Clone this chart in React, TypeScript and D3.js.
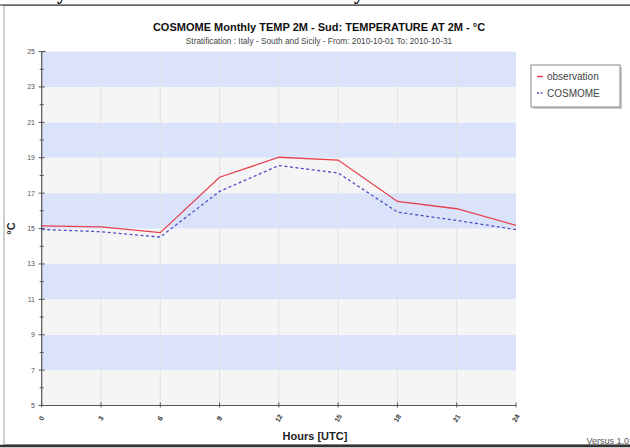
import React from "react";
import * as d3 from "d3";

const hours = [0, 3, 6, 9, 12, 15, 18, 21, 24];
const observation = [15.15, 15.1, 14.77, 17.9, 19.03, 18.87, 16.53, 16.12, 15.18];
const cosmome = [14.95, 14.82, 14.52, 17.1, 18.56, 18.14, 15.93, 15.46, 14.94];
const yTicks = [5, 7, 9, 11, 13, 15, 17, 19, 21, 23, 25];
const yMinor = d3.range(5, 26, 1);
const seriesNames = ["observation", "COSMOME"];
const title = "COSMOME Monthly TEMP 2M - Sud: TEMPERATURE AT 2M  - °C";
const subtitle = "Stratification : Italy - South and Sicily - From: 2010-10-01 To: 2010-10-31";

const W = 630, H = 448;
const L = 41.7, R = 516, T = 51.6, B = 405.5;

export default function App() {
  const x = d3.scaleLinear().domain([0, 24]).range([L, R]);
  const y = d3.scaleLinear().domain([5, 25]).range([B, T]);
  const line = d3.line<number>().x((_, i) => x(hours[i])).y((v) => y(v));
  const bands = d3.range(5, 25, 2);
  const font = "Arial, 'Liberation Sans', sans-serif";
  return (
    <svg width={W} height={H} style={{ position: "absolute", left: 0, top: 0, background: "#fff" }} fontFamily={font}>
      <rect x={0} y={0} width={W} height={H} fill="#fff" />
      {/* cut-off heading descenders */}
      <text x={57} y={-1} fontFamily="'Liberation Serif', 'DejaVu Serif', serif" fontWeight="bold" fontSize={20}>y</text>
      <text x={354} y={-1} fontFamily="'Liberation Serif', 'DejaVu Serif', serif" fontWeight="bold" fontSize={20}>y</text>
      {/* frame */}
      <rect x={4} y={5.5} width={630} height={439} fill="#fff" stroke="#a0a0a0" strokeWidth={1} />
      <line x1={0} x2={W} y1={5} y2={5} stroke="#222" strokeWidth={1.2} />
      <line x1={0} x2={W} y1={446} y2={446} stroke="#333" strokeWidth={2.5} />
      {/* titles */}
      <text x={319} y={31} textAnchor="middle" fontWeight="bold" fontSize={11} fill="#111">{title}</text>
      <text x={319} y={44} textAnchor="middle" fontSize={8.3} fill="#444">{subtitle}</text>
      {/* bands */}
      {bands.map((b) => (
        <rect key={b} x={L} y={y(b + 2)} width={R - L} height={y(b) - y(b + 2)}
          fill={(b - 5) % 4 === 2 ? "#dbe3fb" : "#f5f5f5"} />
      ))}
      {/* vertical grid */}
      {hours.slice(1, -1).map((h) => (
        <line key={h} x1={x(h)} x2={x(h)} y1={T} y2={B} stroke="#e2e2e2" strokeWidth={1} />
      ))}
      {/* axes */}
      <line x1={L} x2={L} y1={T} y2={B} stroke="#555" strokeWidth={1.2} />
      <line x1={L} x2={R} y1={B} y2={B} stroke="#555" strokeWidth={1.2} />
      {yMinor.map((v) => (
        <line key={v} x1={L - (v % 2 === 1 ? 3 : 2)} x2={L + (v % 2 === 1 ? 3 : 2)} y1={y(v)} y2={y(v)} stroke="#555" strokeWidth={1} />
      ))}
      <line x1={L} x2={L + 4} y1={T} y2={T} stroke="#555" strokeWidth={1} />
      {yTicks.map((v) => (
        <text key={v} x={35} y={y(v) + 2.5} textAnchor="end" fontSize={7} fill="#555">{v}</text>
      ))}
      {hours.map((h) => (
        <g key={h}>
          <line x1={x(h)} x2={x(h)} y1={B - 3} y2={B + 2} stroke="#555" strokeWidth={1} />
          <text transform={`translate(${x(h) + 2},${B + 14}) rotate(-60)`} textAnchor="middle" fontSize={7} fontWeight="bold" fill="#333">{h}</text>
        </g>
      ))}
      <text transform={`translate(15,${(T + B) / 2}) rotate(-90)`} textAnchor="middle" fontWeight="bold" fontSize={11} fill="#222">°C</text>
      <text x={315} y={440} textAnchor="middle" fontWeight="bold" fontSize={11} fill="#222">Hours [UTC]</text>
      <text x={629} y={444} textAnchor="end" fontSize={9} fill="#555">Versus 1.0</text>
      {/* series */}
      <path d={line(observation) || ""} fill="none" stroke="#e6414c" strokeWidth={1.3} />
      <path d={line(cosmome) || ""} fill="none" stroke="#4f4fc8" strokeWidth={1.3} strokeDasharray="3,2.5" />
      {/* legend */}
      <rect x={533} y={67} width={89} height={42} fill="#aaa" opacity={0.6} />
      <rect x={531} y={65} width={89} height={42} fill="#fff" stroke="#888" strokeWidth={1} />
      <line x1={537} x2={543} y1={76.5} y2={76.5} stroke="#e6414c" strokeWidth={1.5} />
      <line x1={537} x2={543} y1={93} y2={93} stroke="#4f4fc8" strokeWidth={1.5} strokeDasharray="2,1.5" />
      <text x={547} y={80} fontSize={10} fill="#444">{seriesNames[0]}</text>
      <text x={547} y={96.5} fontSize={10} fill="#444">{seriesNames[1]}</text>
    </svg>
  );
}
